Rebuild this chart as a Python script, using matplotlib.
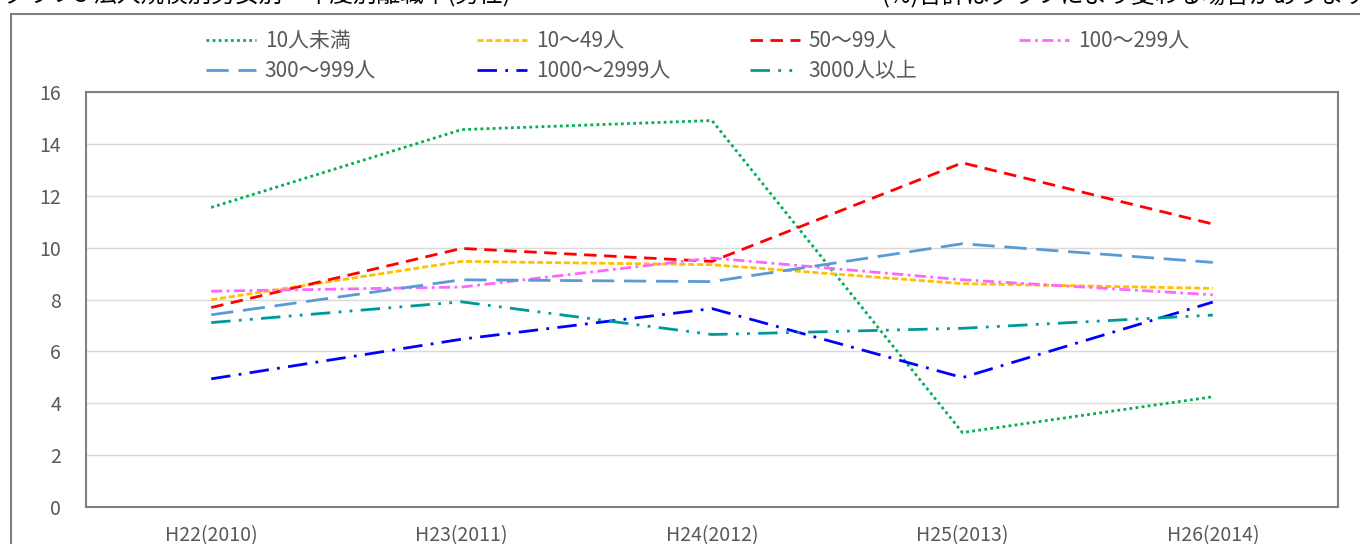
import numpy as np
import matplotlib.pyplot as plt
from matplotlib.patches import Rectangle

plt.rcParams['font.family'] = ['Noto Sans CJK JP', 'DejaVu Sans']

# データ(%)
years = ['H22(2010)', 'H23(2011)', 'H24(2012)', 'H25(2013)', 'H26(2014)']
s_lt10 = [11.55, 14.55, 14.9, 2.87, 4.25]
s_10_49 = [7.99, 9.47, 9.34, 8.61, 8.43]
s_50_99 = [7.69, 9.97, 9.47, 13.27, 10.91]
s_100_299 = [8.32, 8.48, 9.60, 8.76, 8.18]
s_300_999 = [7.41, 8.76, 8.69, 10.15, 9.43]
s_1000_2999 = [4.94, 6.47, 7.65, 4.99, 7.90]
s_3000 = [7.11, 7.91, 6.65, 6.89, 7.40]

labels = ['10人未満', '10～49人', '50～99人', '100～299人',
          '300～999人', '1000～2999人', '3000人以上']
series = [s_lt10, s_10_49, s_50_99, s_100_299, s_300_999, s_1000_2999, s_3000]
colors = ['#00B050', '#FFC000', '#FF0000', '#FF66FF', '#5B9BD5', '#0000FF', '#009999']
styles = [(0, (1, 1.2)), (0, (2.2, 1)), (0, (4.5, 2.7)), (0, (4, 1.6, 1, 1.6)),
          (0, (8, 3.5)), (0, (7, 3, 1, 3)), (0, (7, 3, 1, 3, 1, 3))]

fig = plt.figure(figsize=(13.6, 5.44), dpi=100)
ax = fig.add_axes([86 / 1360, 37 / 544, 1252 / 1360, 415 / 544])

x = np.arange(len(years))
lines = []
for vals, lab, c, ls in zip(series, labels, colors, styles):
    l, = ax.plot(x, vals, color=c, linestyle=ls, lw=2.0, label=lab)
    lines.append(l)

ax.set_xlim(-0.5, 4.5)
ax.set_ylim(0, 16)
ax.set_yticks(np.arange(0, 17, 2))
ax.set_xticks(x)
ax.set_xticklabels(years)
ax.grid(axis='y', color='#D9D9D9', lw=1)
ax.set_axisbelow(True)
ax.tick_params(length=0, labelsize=14, colors='#595959')
ax.tick_params(axis='y', pad=18)
ax.tick_params(axis='x', pad=13)
for sp in ax.spines.values():
    sp.set_color('#808080')
    sp.set_linewidth(1.5)

# 凡例(列ごとに配置)
cols = [[0, 4], [1, 5], [2, 6], [3]]
col_x = [196, 467, 740, 1009]
for idx, cx in zip(cols, col_x):
    fig.legend([lines[i] for i in idx], [labels[i] for i in idx],
               loc='upper left', bbox_to_anchor=(cx / 1360, 1 - 20 / 544),
               frameon=False, fontsize=15, handlelength=2.4, handletextpad=0.4,
               labelspacing=0.38, borderpad=0, labelcolor='#595959')

# 外枠
fig.patches.append(Rectangle((11 / 1360, -0.1), 1.2, 1 - 14 / 544 + 0.1,
                             transform=fig.transFigure, fill=False,
                             edgecolor='#808080', lw=1.5))

# 見切れたタイトル
fig.text(4 / 1360, 1 + 5 / 544, 'グラフ3 法人規模別男女別・年度別離職率(男性)',
         fontsize=17, va='center', ha='left', color='#000000')
fig.text(1 + 8 / 1360, 1 + 5 / 544, '(%)合計はグラフにより変わる場合があります',
         fontsize=17, va='center', ha='right', color='#000000')

plt.savefig('out.png', dpi=100)
